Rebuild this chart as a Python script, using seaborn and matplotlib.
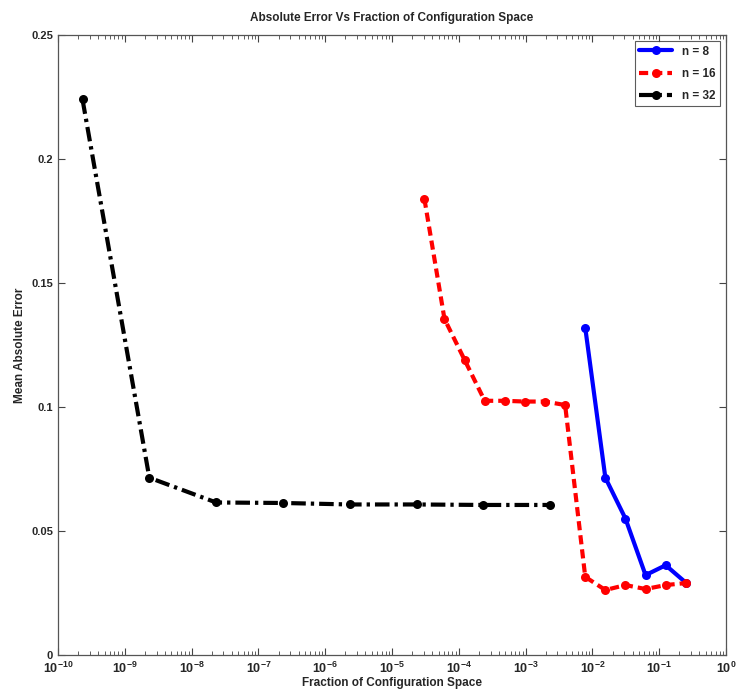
import numpy as np
import pandas as pd
import seaborn as sns
import matplotlib
matplotlib.use("Agg")
import matplotlib.pyplot as plt
from matplotlib.ticker import LogLocator, FuncFormatter, NullFormatter, FixedLocator

# ---- data ----
x_n8 = [2**-7, 2**-6, 2**-5, 2**-4, 2**-3, 2**-2]
y_n8 = [0.132, 0.0715, 0.055, 0.0322, 0.0362, 0.0292]

x_n16 = [2**-15, 2**-14, 2**-13, 2**-12, 2**-11, 2**-10, 2**-9, 2**-8,
         2**-7, 2**-6, 2**-5, 2**-4, 2**-3, 2**-2]
y_n16 = [0.184, 0.1355, 0.119, 0.1025, 0.1025, 0.1022, 0.1022, 0.1008,
         0.0315, 0.0262, 0.0282, 0.0266, 0.0282, 0.0290]

x_n32 = [2**-32 * 10**k for k in range(8)]
y_n32 = [0.224, 0.0715, 0.0615, 0.0613, 0.0607, 0.0607, 0.0605, 0.0605]

x_ticks = [10.0**k for k in range(-10, 1)]
y_ticks = [0, 0.05, 0.1, 0.15, 0.2, 0.25]

labels = ["n = 8", "n = 16", "n = 32"]
colors = ["#0000ff", "#ff0000", "#000000"]

df = pd.concat([
    pd.DataFrame({"x": x_n8, "y": y_n8, "series": labels[0]}),
    pd.DataFrame({"x": x_n16, "y": y_n16, "series": labels[1]}),
    pd.DataFrame({"x": x_n32, "y": y_n32, "series": labels[2]}),
], ignore_index=True)

sns.set_style("ticks")
plt.rcParams['font.family'] = ['Liberation Sans', 'DejaVu Sans']
plt.rcParams['font.weight'] = 'bold'
plt.rcParams['axes.unicode_minus'] = False
plt.rcParams['mathtext.fontset'] = 'custom'
plt.rcParams['mathtext.rm'] = 'Liberation Sans:bold'
plt.rcParams['mathtext.default'] = 'rm'

fig = plt.figure(figsize=(7.36, 7.0), dpi=100)
ax = fig.add_axes([58/736, 45/700, 668/736, 620/700])

ax.set_xscale("log")
sns.lineplot(data=df, x="x", y="y", hue="series", style="series",
             palette=dict(zip(labels, colors)),
             dashes={labels[0]: "", labels[1]: (2.2, 1.2), labels[2]: (3.5, 1.2, 0.8, 1.2)},
             markers={l: "o" for l in labels},
             markersize=6.5, markeredgewidth=0, linewidth=3,
             sort=False, estimator=None, ax=ax)

ax.set_xlim(1e-10, 1)
ax.set_ylim(0, 0.25)
ax.set_yticks(y_ticks)
ax.yaxis.set_major_formatter(FuncFormatter(lambda v, p: "0" if v == 0 else f"{v:g}"))
ax.xaxis.set_major_locator(FixedLocator(x_ticks))
ax.xaxis.set_minor_locator(LogLocator(base=10, subs=np.arange(2, 10), numticks=100))
ax.xaxis.set_minor_formatter(NullFormatter())
ax.xaxis.set_major_formatter(FuncFormatter(
    lambda v, p: r"$10^{%d}$" % int(round(np.log10(v)))))

ax.tick_params(axis="both", which="both", direction="in", top=True, right=True,
               labelsize=8, color="#444444")
ax.tick_params(axis="x", labelsize=9, pad=4)
ax.tick_params(which="major", length=5, width=0.8)
ax.tick_params(which="minor", length=3, width=0.6)
for sp in ax.spines.values():
    sp.set_linewidth(0.9)
    sp.set_color("#555555")

ax.set_xlabel("Fraction of Configuration Space", fontsize=8.5, fontweight="bold", labelpad=1)
ax.set_ylabel("Mean Absolute Error", fontsize=8.5, fontweight="bold", labelpad=4)
ax.set_title("Absolute Error Vs Fraction of Configuration Space", fontsize=8.5,
             fontweight="bold", pad=10)

leg = ax.legend(loc="upper right", fontsize=8.5, frameon=True, fancybox=False,
                handlelength=2.8, borderaxespad=0.5, labelspacing=0.85)
leg.get_frame().set_edgecolor("#333333")
leg.get_frame().set_linewidth(0.8)

fig.savefig("out.png", dpi=100)
